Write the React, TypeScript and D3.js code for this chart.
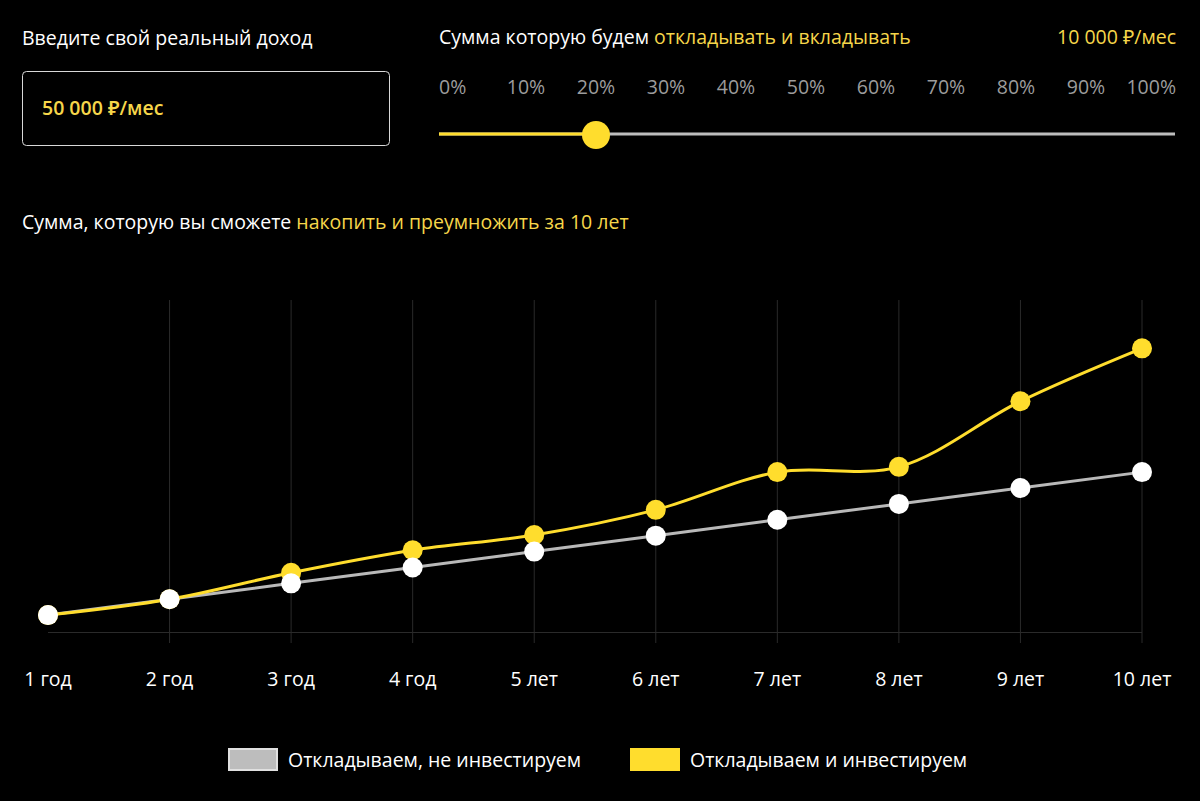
import React, { useEffect } from 'react';
import * as d3 from 'd3';

const years = ['1 год', '2 год', '3 год', '4 год', '5 лет', '6 лет', '7 лет', '8 лет', '9 лет', '10 лет'];
const savedOnly = [120000, 240000, 360000, 480000, 600000, 720000, 840000, 960000, 1080000, 1200000];
const savedInvested = [120000, 240000, 440000, 610000, 725000, 915000, 1200000, 1240000, 1735000, 2135000];
const percents = [0, 10, 20, 30, 40, 50, 60, 70, 80, 90, 100];
const sharePercent = 20;
const legendLabels = ['Откладываем, не инвестируем', 'Откладываем и инвестируем'];

const W = 1200;
const H = 801;
const YELLOW = '#ffdd2d';
const TEXT_YELLOW = '#f6d64a';
const GRAY = '#b9b9b9';
const FONT = '"Open Sans", "Noto Sans", sans-serif';
const FS = 19.5;

const App = () => {
  useEffect(() => {
    document.body.style.margin = '0';
    document.body.style.background = '#000';
  }, []);

  const x = d3.scalePoint<string>().domain(years).range([48, 1142]);
  const y = d3.scaleLinear().domain([0, 2500000]).range([631, 300]);
  const pct = d3.scaleLinear().domain([0, 100]).range([456, 1156]);

  const grayLine = d3
    .line<number>()
    .x((_, i) => x(years[i]) as number)
    .y(d => y(d));
  const yellowLine = d3
    .line<number>()
    .x((_, i) => x(years[i]) as number)
    .y(d => y(d))
    .curve(d3.curveCatmullRom.alpha(0.5));

  const thumbX = pct(sharePercent);

  return (
    <svg width={W} height={H} style={{ display: 'block' }} fontFamily={FONT}>
      <rect width={W} height={H} fill="#000" />

      {/* income input */}
      <text x={22} y={45} fill="#fff" fontSize={FS}>Введите свой реальный доход</text>
      <rect x={22.5} y={71.5} width={367} height={74} rx={4} fill="#000" stroke="#d8d8d8" strokeWidth={1} />
      <text x={42} y={115} fill={TEXT_YELLOW} fontSize={FS} fontWeight={600}>50 000 ₽/мес</text>

      {/* slider */}
      <text x={439} y={44} fontSize={FS} fill="#fff">
        Сумма которую будем <tspan fill={TEXT_YELLOW}>откладывать и вкладывать</tspan>
      </text>
      <text x={1176} y={44} fontSize={FS} fill={TEXT_YELLOW} textAnchor="end">10 000 ₽/мес</text>
      {percents.map((p, i) => (
        <text
          key={p}
          x={i === 0 ? 439 : i === percents.length - 1 ? 1176 : pct(p)}
          y={94}
          fontSize={FS}
          fill="#9c9c9c"
          textAnchor={i === 0 ? 'start' : i === percents.length - 1 ? 'end' : 'middle'}
        >
          {p}%
        </text>
      ))}
      <line x1={439} x2={1175} y1={134} y2={134} stroke="#bdbdbd" strokeWidth={3} />
      <line x1={439} x2={thumbX} y1={134} y2={134} stroke={YELLOW} strokeWidth={3} />
      <circle cx={thumbX} cy={135} r={14} fill={YELLOW} />

      {/* chart title */}
      <text x={22} y={229} fontSize={FS} fill="#fff">
        Сумма, которую вы сможете <tspan fill={TEXT_YELLOW}>накопить и преумножить за 10 лет</tspan>
      </text>

      {/* grid */}
      {years.slice(1).map(yr => (
        <line key={yr} x1={x(yr)} x2={x(yr)} y1={300} y2={643} stroke="#2a2a2a" strokeWidth={1} />
      ))}
      <line x1={48} x2={1142} y1={632.5} y2={632.5} stroke="#2a2a2a" strokeWidth={1} />
      {years.map(yr => (
        <text key={yr} x={x(yr)} y={686} fontSize={FS} fill="#fff" textAnchor="middle">{yr}</text>
      ))}

      {/* series */}
      <path d={grayLine(savedOnly) || ''} fill="none" stroke={GRAY} strokeWidth={3} />
      <path d={yellowLine(savedInvested) || ''} fill="none" stroke={YELLOW} strokeWidth={3} />
      {savedInvested.map((v, i) => (
        <circle key={'y' + i} cx={x(years[i])} cy={y(v)} r={10} fill={YELLOW} />
      ))}
      {savedOnly.map((v, i) => (
        <circle key={'g' + i} cx={x(years[i])} cy={y(v)} r={10} fill="#fff" />
      ))}

      {/* legend */}
      <rect x={229} y={749} width={48} height={21} fill="#bdbdbd" stroke="#e0e0e0" strokeWidth={2} />
      <text x={288} y={767} fontSize={FS} fill="#fff">{legendLabels[0]}</text>
      <rect x={630} y={748} width={50} height={23} fill={YELLOW} />
      <text x={690} y={767} fontSize={FS} fill="#fff">{legendLabels[1]}</text>
    </svg>
  );
};

export default App;
